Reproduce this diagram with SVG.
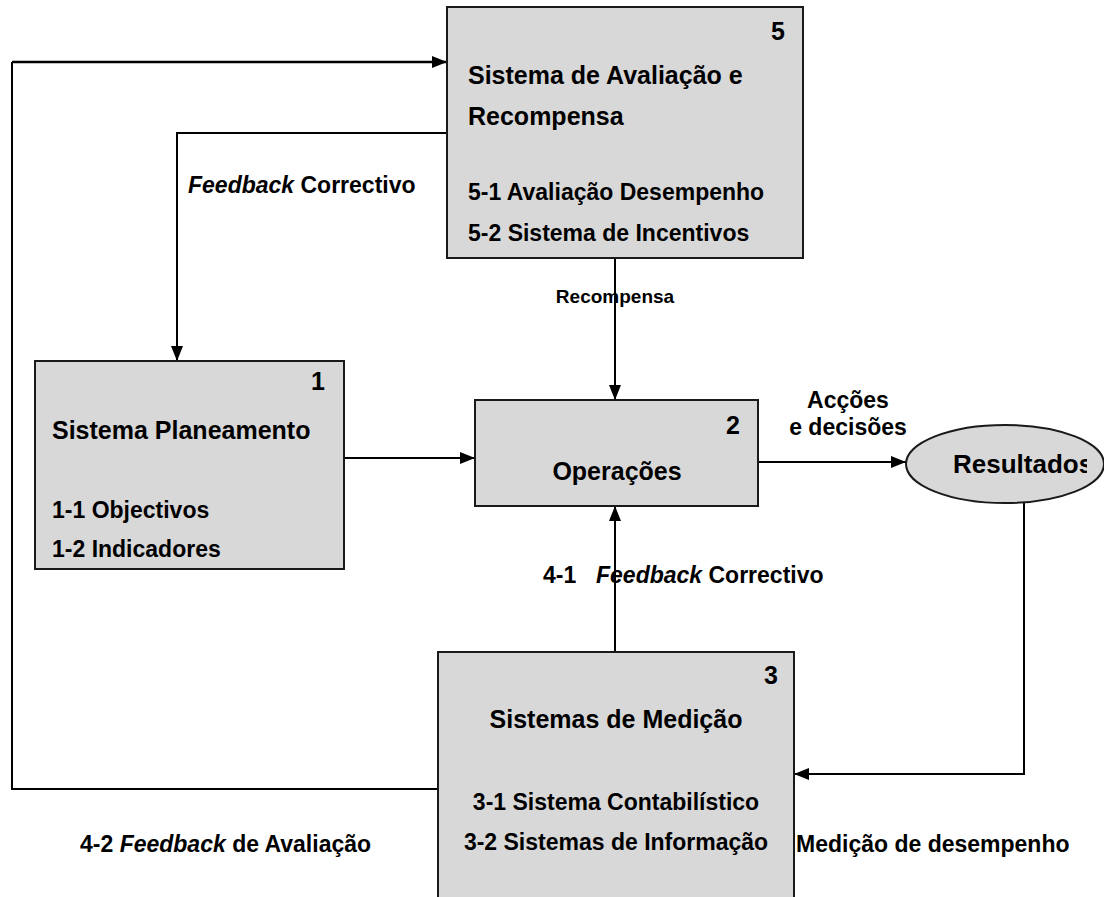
<svg xmlns="http://www.w3.org/2000/svg" width="1104" height="897" viewBox="0 0 1104 897">
<defs>
<style>
.box{fill:#d8d8d8;stroke:#1a1a1a;stroke-width:2}
.t{font-family:"Liberation Sans",Arial,sans-serif;font-weight:bold;fill:#000}
.h{font-size:25px}
.i{font-size:23px}
.l{font-size:23px}
.n{font-size:25px;text-anchor:end}
.c{text-anchor:middle}
.conn{fill:none;stroke:#000;stroke-width:2}
</style>
<marker id="arr" markerUnits="userSpaceOnUse" markerWidth="15" markerHeight="12" refX="15" refY="6" orient="auto">
<path d="M0,0 L15,6 L0,12 Z" fill="#000"/>
</marker>
<clipPath id="resclip"><rect x="900" y="420" width="187" height="90"/></clipPath>
</defs>
<rect width="1104" height="897" fill="#fff"/>

<g id="connectors">
<path class="conn" d="M438,789 H12 V62"/>
<path class="conn" style="stroke-width:2.6" d="M12,62 H447" marker-end="url(#arr)"/>
<path class="conn" d="M447,133 H177 V361" marker-end="url(#arr)"/>
<path class="conn" d="M615,258 V400" marker-end="url(#arr)"/>
<path class="conn" d="M344,458 H475" marker-end="url(#arr)"/>
<path class="conn" d="M758,462 H906" marker-end="url(#arr)"/>
<path class="conn" d="M1024,503 V774 H794" marker-end="url(#arr)"/>
<path class="conn" d="M615,652 V506" marker-end="url(#arr)"/>
</g>

<g id="node5">
<rect class="box" x="447" y="7" width="356" height="251"/>
<text class="t n" x="785" y="40">5</text>
<text class="t h" x="468" y="84">Sistema de Avaliação e</text>
<text class="t h" x="468" y="125">Recompensa</text>
<text class="t i" x="468" y="200">5-1 Avaliação Desempenho</text>
<text class="t i" x="468" y="241">5-2 Sistema de Incentivos</text>
</g>

<g id="node1">
<rect class="box" x="35" y="361" width="309" height="208"/>
<text class="t n" x="325" y="390">1</text>
<text class="t h" x="52" y="439">Sistema Planeamento</text>
<text class="t i" x="52" y="518">1-1 Objectivos</text>
<text class="t i" x="52" y="557">1-2 Indicadores</text>
</g>

<g id="node2">
<rect class="box" x="475" y="400" width="283" height="106"/>
<text class="t n" x="740" y="434">2</text>
<text class="t h c" x="617" y="480">Operações</text>
</g>

<g id="node-resultados">
<ellipse class="box" cx="1005" cy="464" rx="99" ry="39"/>
<text class="t" font-size="26" x="953" y="473" clip-path="url(#resclip)">Resultados</text>
</g>

<g id="node3">
<rect class="box" x="438" y="652" width="356" height="260"/>
<text class="t n" x="778" y="684">3</text>
<text class="t h c" x="616" y="728">Sistemas de Medição</text>
<text class="t i c" x="616" y="810">3-1 Sistema Contabilístico</text>
<text class="t i c" x="616" y="850">3-2 Sistemas de Informação</text>
</g>

<g id="labels">
<text class="t l" x="188" y="193"><tspan font-style="italic">Feedback</tspan> Correctivo</text>
<text class="t" font-size="19" x="615" y="303" text-anchor="middle">Recompensa</text>
<text class="t l c" x="848" y="408">Acções</text>
<text class="t l c" x="848" y="435">e decisões</text>
<text class="t l" x="543" y="583">4-1</text>
<text class="t l" x="596" y="583"><tspan font-style="italic">Feedback</tspan> Correctivo</text>
<text class="t l" x="80" y="852">4-2 <tspan font-style="italic">Feedback</tspan> de Avaliação</text>
<text class="t l" x="796" y="852">Medição de desempenho</text>
</g>
</svg>
